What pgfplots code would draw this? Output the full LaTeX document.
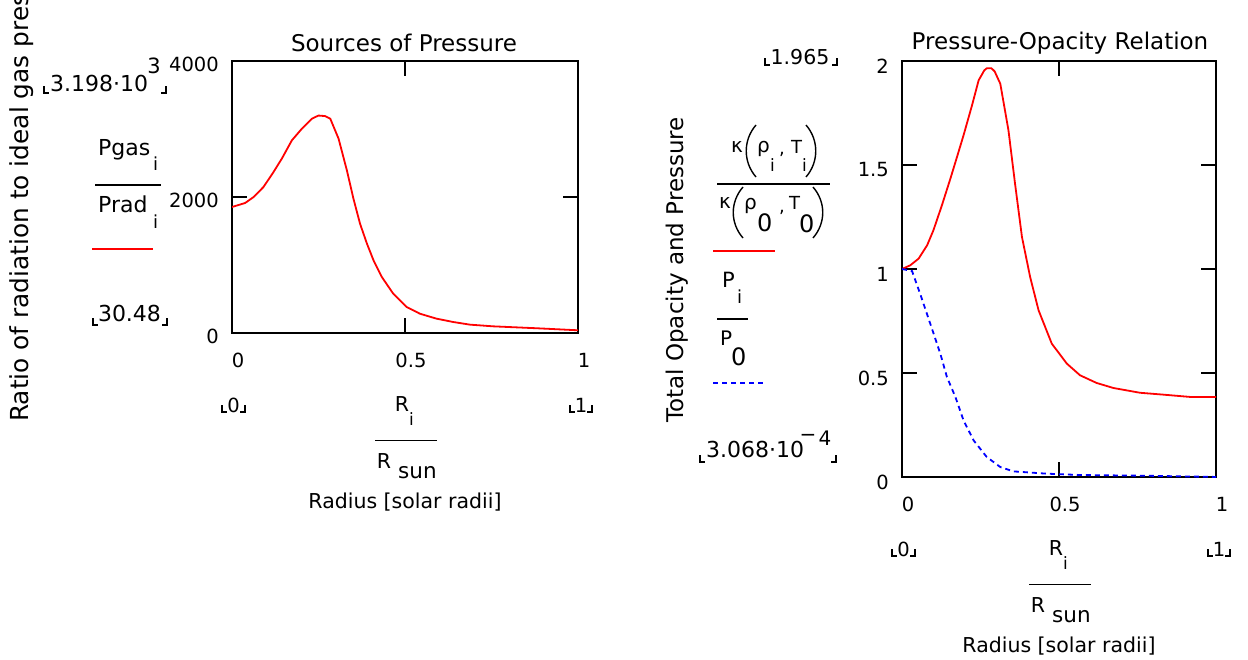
\documentclass[border=0pt]{standalone}
\usepackage{fontspec}
\setmainfont{DejaVu Sans}
\usepackage{pgfplots}
\pgfplotsset{compat=1.18}
\definecolor{mred}{RGB}{255,0,0}
\definecolor{mblue}{RGB}{0,0,255}
\newcommand\fsz[1]{\fontsize{#1bp}{#1bp}\selectfont}
\pgfplotstableread{
x y
0 1853
0.038 1912
0.0625 2000
0.091 2147
0.12 2368
0.144 2564
0.173 2833
0.202 3005
0.231 3152
0.25 3198
0.269 3190
0.284 3152
0.308 2858
0.332 2392
0.351 1975
0.37 1608
0.39 1314
0.409 1069
0.433 824
0.466 578
0.505 382
0.543 284
0.591 211
0.639 162
0.6875 123
0.755 98
0.88 70
1 40
}\ratio
\pgfplotstableread{
x y
0 1.0
0.0265 1.018
0.053 1.05
0.08 1.114
0.10 1.186
0.127 1.306
0.154 1.434
0.175 1.538
0.196 1.643
0.223 1.787
0.244 1.907
0.262 1.955
0.27 1.965
0.285 1.965
0.295 1.95
0.313 1.891
0.339 1.667
0.36 1.41
0.382 1.154
0.408 0.962
0.435 0.801
0.477 0.641
0.525 0.545
0.567 0.489
0.62 0.452
0.673 0.428
0.758 0.405
0.832 0.396
0.917 0.385
1 0.385
}\opac
\pgfplotstableread{
x y
0 1.0
0.032 0.99
0.058 0.88
0.09 0.737
0.122 0.593
0.143 0.481
0.17 0.385
0.196 0.272
0.228 0.176
0.27 0.096
0.313 0.048
0.355 0.027
0.461 0.016
0.567 0.0096
0.779 0.006
1 0.0003
}\press
\pgfplotsset{
 mcad/.style={
  scale only axis, xmin=0, xmax=1, ymin=0,
  xtick={0,0.5,1},
  tick align=inside, major tick length=15bp,
  axis line style={line width=2bp},
  tick style={black, line width=2bp},
  /pgf/number format/assume math mode=true,
  /pgf/number format/1000 sep={},
  scaled y ticks=false,
  ticklabel style={font=\fsz{19.5}, inner sep=0pt},
  xticklabel style={anchor=center, yshift=-27bp, xshift=6bp},
  yticklabel style={anchor=east, xshift=-13bp},
 }
}
\newcommand\corners[3]{% xleft xright ybottom
  \draw[line width=1.4bp] (#1,#3-7) -- (#1,#3) -- (#1+5,#3);
  \draw[line width=1.4bp] (#2-5,#3) -- (#2,#3) -- (#2,#3-7);}
\newcommand\xstack[4]{% xmid xleft xright bottom
  \node[font=\fsz{19.5}, inner sep=0] at ({#2+1.5},{#4+72}) {0};
  \corners{#2-10}{#2+13}{#4+79}
  \node[font=\fsz{19.5}, inner sep=0] at ({#3+3},{#4+72}) {1};
  \corners{#3-8}{#3+14}{#4+79}
  \node[font=\fsz{20.5}, inner sep=0, anchor=base] at ({#1-3},{#4+78}) {R};
  \node[font=\fsz{17}, inner sep=0, anchor=base] at ({#1+6.5},{#4+92}) {i};
  \draw[line width=1.4bp] ({#1-30},{#4+107.5}) -- ({#1+32},{#4+107.5});
  \node[font=\fsz{20.5}, inner sep=0, anchor=base] at ({#1-21},{#4+135}) {R};
  \node[font=\fsz{21.5}, inner sep=0, anchor=base west] at ({#1-7},{#4+145}) {sun};
  \node[font=\fsz{20.5}, inner sep=0, anchor=base] at ({#1},{#4+175}) {Radius [solar radii]};}
\begin{document}
\begin{tikzpicture}
\path[use as bounding box] (0,0) rectangle (1248bp,-660bp);
% left axis
\begin{axis}[mcad, at={(232bp,-333bp)}, anchor=south west,
  width=346bp, height=272bp, ymax=4000, ytick={0,2000,4000},
  yticklabel style={yshift=-3bp}]
\addplot[mred, line width=1.8bp] table[x=x,y=y] {\ratio};
\end{axis}
% right axis
\begin{axis}[mcad, at={(902bp,-477bp)}, anchor=south west,
  width=314bp, height=416bp, ymax=2, ytick={0,0.5,1,1.5,2},
  yticklabel style={yshift=-5bp}]
\addplot[mred, line width=1.8bp] table[x=x,y=y] {\opac};
\addplot[mblue, line width=1.8bp, dash pattern=on 5bp off 4bp] table[x=x,y=y] {\press};
\end{axis}
\begin{scope}[x=1bp,y=-1bp]
% titles
\node[font=\fsz{23}, inner sep=0] at (404,43) {Sources of Pressure};
\node[font=\fsz{23}, inner sep=0] at (1060,43) {Pressure-Opacity Relation};
% left y label and legend
\node[rotate=90, anchor=base west, font=\fsz{24.8}, inner sep=0] at (28,422) {Ratio of radiation to ideal gas pressure};
\node[anchor=base west, font=\fsz{22}, inner sep=0] at (50,91) {3.198·10};
\node[font=\fsz{21}, inner sep=0] at (154,66) {3};
\corners{44}{166}{93}
\node[anchor=base west, font=\fsz{22}, inner sep=0] at (98,155) {Pgas};
\node[anchor=base, font=\fsz{18}, inner sep=0] at (155.5,170) {i};
\draw[line width=1.4bp] (95,185) -- (161,185);
\node[anchor=base west, font=\fsz{22}, inner sep=0] at (98,212) {Prad};
\node[anchor=base, font=\fsz{18}, inner sep=0] at (155.5,228) {i};
\draw[mred, line width=1.8bp] (92,249) -- (153,249);
\node[anchor=base, font=\fsz{22}, inner sep=0] at (129.5,321) {30.48};
\corners{93}{167}{325}
% right y label and legend
\node[rotate=90, anchor=base west, font=\fsz{23}, inner sep=0] at (683,423) {Total Opacity and Pressure};
\node[font=\fsz{20.5}, inner sep=0] at (800,57) {1.965};
\corners{765}{837}{65}
% numerator
\node[anchor=base west, font=\fsz{20}, inner sep=0] at (731,152) {κ};
\draw[line width=1.4bp] (756,125) .. controls (743,140) and (743,162) .. (756,177);
\node[anchor=base west, font=\fsz{20}, inner sep=0] at (757,152) {ρ};
\node[anchor=base west, font=\fsz{17}, inner sep=0] at (770,171) {i};
\node[anchor=base west, font=\fsz{18}, inner sep=0] at (779,154) {,};
\node[anchor=base west, font=\fsz{18}, inner sep=0] at (791,153) {T};
\node[anchor=base west, font=\fsz{17}, inner sep=0] at (802,171) {i};
\draw[line width=1.4bp] (806,125) .. controls (819,140) and (819,162) .. (806,177);
\draw[line width=1.4bp] (717,184) -- (830,184);
% denominator
\node[anchor=base west, font=\fsz{20}, inner sep=0] at (719,208) {κ};
\draw[line width=1.4bp] (743,187) .. controls (730,202) and (730,223) .. (743,238);
\node[anchor=base west, font=\fsz{20}, inner sep=0] at (744,209) {ρ};
\node[anchor=base west, font=\fsz{24}, inner sep=0] at (757,231) {0};
\node[anchor=base west, font=\fsz{18}, inner sep=0] at (779,212) {,};
\node[anchor=base west, font=\fsz{18}, inner sep=0] at (789,209) {T};
\node[anchor=base west, font=\fsz{24}, inner sep=0] at (799,232) {0};
\draw[line width=1.4bp] (813,187) .. controls (826,202) and (826,223) .. (813,238);
\draw[mred, line width=1.8bp] (713,251) -- (775,251);
% P_i / P_0
\node[anchor=base west, font=\fsz{21}, inner sep=0] at (722,287) {P};
\node[anchor=base west, font=\fsz{18}, inner sep=0] at (737,303) {i};
\draw[line width=1.4bp] (717,319) -- (748,319);
\node[anchor=base west, font=\fsz{20}, inner sep=0] at (720,345) {P};
\node[anchor=base west, font=\fsz{24}, inner sep=0] at (731,365) {0};
\draw[mblue, line width=1.8bp, dash pattern=on 5bp off 4bp] (713,383) -- (767,383);
\node[anchor=base west, font=\fsz{22}, inner sep=0] at (706,457) {3.068·10};
\node[font=\fsz{20}, inner sep=0] at (808,438) {−};
\node[font=\fsz{20}, inner sep=0] at (825,438) {4};
\corners{700}{836}{462}
% x stacks
\xstack{405}{232}{578}{333}
\xstack{1059}{902}{1216}{477}
\end{scope}
\end{tikzpicture}
\end{document}
